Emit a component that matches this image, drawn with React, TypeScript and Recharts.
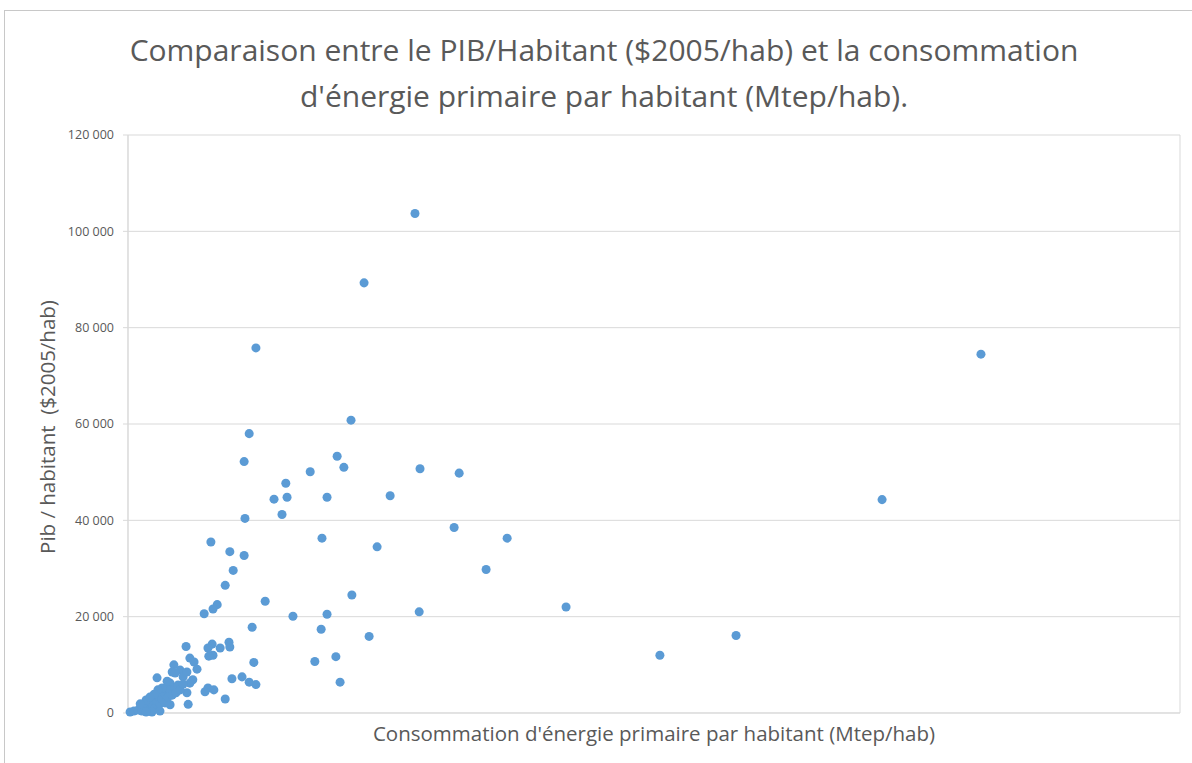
import React from 'react';
import { ScatterChart, Scatter, XAxis, YAxis, CartesianGrid, ZAxis } from 'recharts';

// Energy consumption per inhabitant (Mtep/hab) — x values
const energie: number[] = [
  6.82, 5.61, 3.04, 20.27, 5.30, 2.88, 2.76, 4.97, 5.13, 4.33,
  6.94, 7.87, 3.75, 3.78, 4.73, 6.23, 3.47, 17.92, 3.66, 2.78,
  7.75, 4.61, 5.92, 9.01, 1.97, 2.42, 2.76, 2.50, 8.51, 2.31,
  5.32, 3.26, 2.12, 2.02, 1.81, 10.41, 6.92, 3.92, 4.73, 4.59,
  2.95, 14.45, 5.73, 12.64, 4.94, 4.44, 2.99, 5.04, 3.04, 2.88,
  2.71, 2.47, 2.31, 1.38, 2.40, 2.42, 2.00, 1.90, 2.19, 2.02,
  1.92, 1.47, 1.57, 1.64, 1.09, 1.05, 1.24, 1.31, 1.54, 0.69,
  1.00, 1.47, 1.90, 1.83, 2.04, 1.40, 1.43,
  0.05, 0.14, 0.24, 0.33, 0.40, 0.48, 0.52, 0.57, 0.64, 0.67,
  0.71, 0.76, 0.81, 0.86, 0.88, 0.90, 0.95, 1.00, 1.05, 1.12,
  1.14, 1.19, 1.24, 1.31, 0.81, 0.71, 0.62, 0.43, 0.29, 0.52,
  0.93, 0.57, 0.43, 0.76, 1.00, 1.40, 1.12,
];

// GDP per inhabitant ($2005/hab) — y values
const pib: number[] = [
  103700, 89300, 75800, 74500, 60800, 58000, 52200, 53300, 51000, 50100,
  50700, 49800, 47700, 44800, 44800, 45100, 44400, 44300, 41200, 40400,
  38500, 36300, 34500, 36300, 35500, 33500, 32700, 29600, 29800, 26500,
  24500, 23200, 22500, 21600, 20600, 22000, 21000, 20100, 20500, 17400,
  17800, 16100, 15900, 12000, 11700, 10700, 10500, 6400, 5900, 6400,
  7500, 7100, 2900, 13800, 14700, 13700, 14300, 13500, 13500, 12000,
  11800, 11400, 10600, 9100, 10000, 8500, 8900, 7500, 6900, 7300,
  6200, 6200, 5200, 4400, 4800, 4200, 1800,
  200, 400, 600, 400, 1000, 1500, 600, 1900, 1000, 2700,
  3500, 1900, 2900, 4200, 2100, 5200, 3300, 4800, 3700, 5200,
  4200, 5800, 4800, 6000, 5200, 4800, 3900, 2700, 1900, 3300,
  6600, 200, 200, 400, 1700, 8500, 8300,
];

const xTicks: number[] = [0, 5, 10, 15, 20, 25];
const yTicks: number[] = [0, 20000, 40000, 60000, 80000, 100000, 120000];

const titleLine1 = 'Comparaison entre le PIB/Habitant ($2005/hab) et la consommation';
const titleLine2 = "d'énergie primaire par habitant (Mtep/hab).";
const xLabel = "Consommation d'énergie primaire par habitant (Mtep/hab)";
const yLabel = 'Pib / habitant  ($2005/hab)';

const data = energie.map((e, i) => ({ energie: e, pib: pib[i] }));

const fmt = (v: number) => String(v).replace(/\B(?=(\d{3})+(?!\d))/g, ' ');

const FONT = '"Open Sans", "Noto Sans", sans-serif';
const GREY = '#595959';

export default function App() {
  return (
    <div style={{ position: 'absolute', left: 0, top: 0, width: 1192, height: 763, background: '#fff', overflow: 'hidden', fontFamily: FONT }}>
      <div style={{ position: 'absolute', left: 4, top: 10, width: 1200, height: 800, border: '1px solid #c8c8c8', boxSizing: 'border-box' }} />
      <div style={{ position: 'absolute', left: 0, top: 0 }}>
        <ScatterChart width={1192} height={763} margin={{ top: 135, right: 12, bottom: 0, left: 0 }}>
          <CartesianGrid stroke="#d9d9d9" strokeWidth={1} />
          <XAxis
            type="number"
            dataKey="energie"
            domain={[0, 25]}
            ticks={xTicks}
            tick={false}
            tickLine={false}
            axisLine={{ stroke: '#d9d9d9' }}
            height={50}
          />
          <YAxis
            type="number"
            dataKey="pib"
            domain={[0, 120000]}
            ticks={yTicks}
            width={128}
            tickFormatter={fmt}
            tick={{ fill: GREY, fontSize: 12.5, fontFamily: FONT }}
            tickLine={{ stroke: '#d9d9d9' }}
            tickSize={5}
            tickMargin={9}
            axisLine={{ stroke: '#d9d9d9' }}
          />
          <ZAxis range={[80, 80]} />
          <Scatter data={data} fill="#5B9BD5" isAnimationActive={false} />
        </ScatterChart>
      </div>
      <div style={{ position: 'absolute', left: 0, width: 1208, top: 27, textAlign: 'center', color: GREY, fontSize: 30, lineHeight: '46px', whiteSpace: 'nowrap' }}>
        <div>{titleLine1}</div>
        <div>{titleLine2}</div>
      </div>
      <div style={{ position: 'absolute', left: 128, width: 1052, top: 720, textAlign: 'center', color: GREY, fontSize: 20.5, lineHeight: '26px', whiteSpace: 'nowrap' }}>
        {xLabel}
      </div>
      <div style={{ position: 'absolute', left: 47, top: 427, transform: 'translate(-50%, -50%) rotate(-90deg)', color: GREY, fontSize: 20.5, lineHeight: '26px', whiteSpace: 'pre' }}>
        {yLabel}
      </div>
    </div>
  );
}
